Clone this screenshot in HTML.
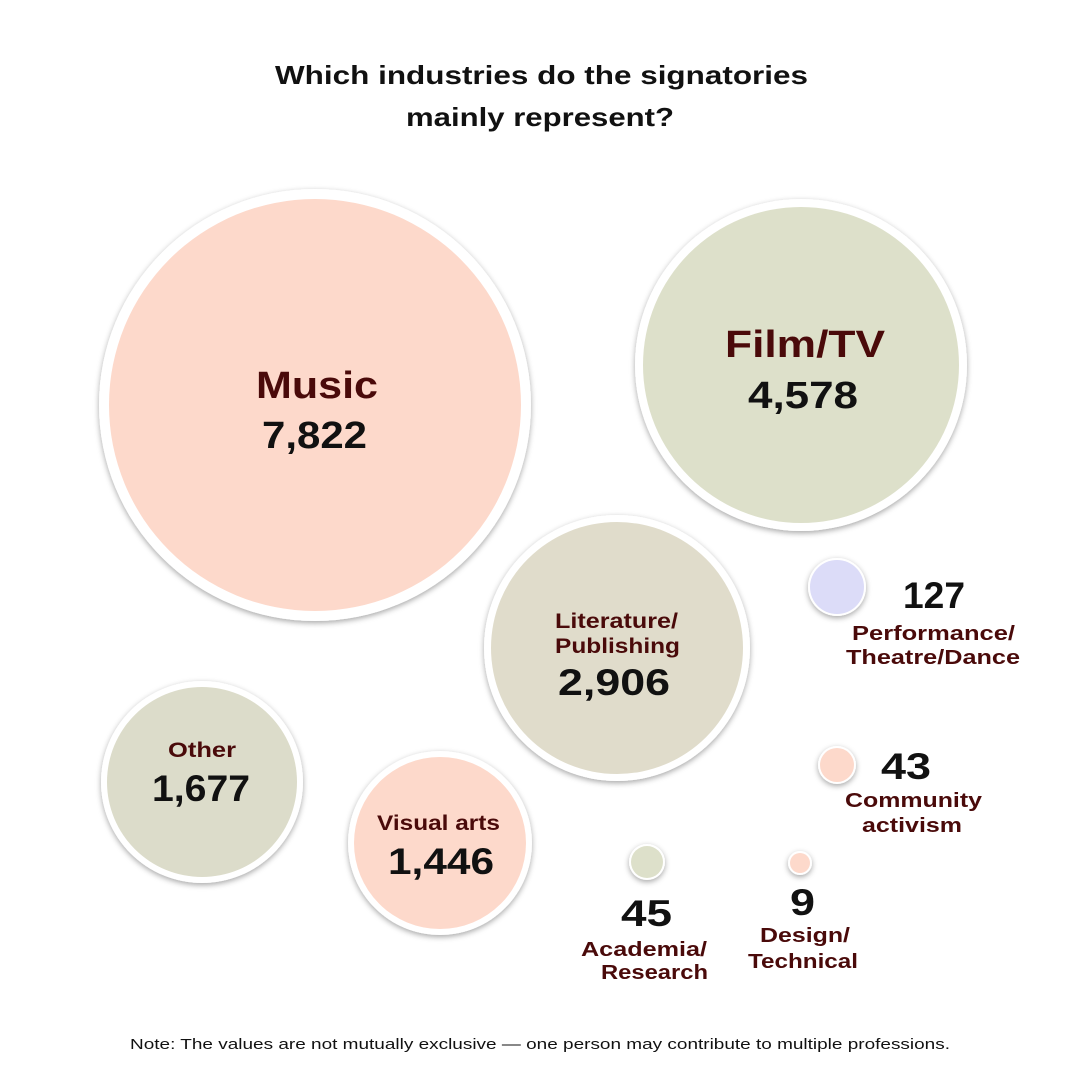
<!DOCTYPE html>
<html><head><meta charset="utf-8"><style>
body{margin:0;background:#fff;}
svg{display:block}
text{font-family:"Liberation Sans",sans-serif;font-weight:bold;}
.lab{fill:#4a0a0a}
.num{fill:#111}
</style></head><body>
<svg width="1081" height="1081" viewBox="0 0 1081 1081" xmlns="http://www.w3.org/2000/svg">
<defs>
<filter id="sh" x="-20%" y="-20%" width="140%" height="140%">
<feDropShadow dx="0" dy="2" stdDeviation="3" flood-color="#000" flood-opacity="0.35"/>
</filter>
</defs>
<rect width="1081" height="1081" fill="#fff"/>
<g lengthAdjust="spacingAndGlyphs">
<text x="275" y="84" textLength="533" lengthAdjust="spacingAndGlyphs" font-size="26" class="num">Which industries do the signatories</text>
<text x="406" y="126" textLength="268" lengthAdjust="spacingAndGlyphs" font-size="26" class="num">mainly represent?</text>
</g>

<g filter="url(#sh)" fill="#fff">
<circle cx="315" cy="405" r="216"/>
<circle cx="801" cy="365" r="166"/>
<circle cx="617" cy="648" r="133"/>
<circle cx="202" cy="782" r="101"/>
<circle cx="440" cy="843" r="92"/>
</g>
<circle cx="315" cy="405" r="206" fill="#fdd9cb"/>
<circle cx="801" cy="365" r="158" fill="#dde0ca"/>
<circle cx="617" cy="648" r="126" fill="#e0dccb"/>
<circle cx="202" cy="782" r="95" fill="#dcdcca"/>
<circle cx="440" cy="843" r="86" fill="#fdd9cb"/>
<g filter="url(#sh)">
<circle cx="837" cy="587" r="29" fill="#fff"/>
<circle cx="837" cy="765" r="19" fill="#fff"/>
<circle cx="647" cy="862" r="18" fill="#fff"/>
<circle cx="800" cy="863" r="12" fill="#fff"/>
</g>
<circle cx="837" cy="587" r="27" fill="#dcdcf8"/>
<circle cx="837" cy="765" r="17" fill="#fdd9cb"/>
<circle cx="647" cy="862" r="16" fill="#dde0ca"/>
<circle cx="800" cy="863" r="10" fill="#fdd9cb"/>

<text x="256" y="398" textLength="122" lengthAdjust="spacingAndGlyphs" font-size="38" class="lab">Music</text>
<text x="262" y="448" textLength="105" lengthAdjust="spacingAndGlyphs" font-size="38" class="num">7,822</text>
<text x="725" y="357" textLength="160" lengthAdjust="spacingAndGlyphs" font-size="38" class="lab">Film/TV</text>
<text x="748" y="408" textLength="110" lengthAdjust="spacingAndGlyphs" font-size="38" class="num">4,578</text>
<text x="555" y="628" textLength="123" lengthAdjust="spacingAndGlyphs" font-size="21" class="lab">Literature/</text>
<text x="555" y="653" textLength="125" lengthAdjust="spacingAndGlyphs" font-size="21" class="lab">Publishing</text>
<text x="558" y="695" textLength="112" lengthAdjust="spacingAndGlyphs" font-size="37" class="num">2,906</text>
<text x="168" y="757" textLength="68" lengthAdjust="spacingAndGlyphs" font-size="21" class="lab">Other</text>
<text x="152" y="801" textLength="98" lengthAdjust="spacingAndGlyphs" font-size="37" class="num">1,677</text>
<text x="377" y="830" textLength="123" lengthAdjust="spacingAndGlyphs" font-size="21" class="lab">Visual arts</text>
<text x="388" y="874" textLength="106" lengthAdjust="spacingAndGlyphs" font-size="37" class="num">1,446</text>
<text x="903" y="608" textLength="62" lengthAdjust="spacingAndGlyphs" font-size="37" class="num">127</text>
<text x="852" y="640" textLength="163" lengthAdjust="spacingAndGlyphs" font-size="20" class="lab">Performance/</text>
<text x="846" y="664" textLength="174" lengthAdjust="spacingAndGlyphs" font-size="20" class="lab">Theatre/Dance</text>
<text x="881" y="779" textLength="50" lengthAdjust="spacingAndGlyphs" font-size="37" class="num">43</text>
<text x="845" y="807" textLength="137" lengthAdjust="spacingAndGlyphs" font-size="20" class="lab">Community</text>
<text x="862" y="832" textLength="100" lengthAdjust="spacingAndGlyphs" font-size="20" class="lab">activism</text>
<text x="621" y="926" textLength="51" lengthAdjust="spacingAndGlyphs" font-size="37" class="num">45</text>
<text x="581" y="956" textLength="126" lengthAdjust="spacingAndGlyphs" font-size="20" class="lab">Academia/</text>
<text x="601" y="979" textLength="107" lengthAdjust="spacingAndGlyphs" font-size="20" class="lab">Research</text>
<text x="790" y="915" textLength="25" lengthAdjust="spacingAndGlyphs" font-size="37" class="num">9</text>
<text x="760" y="942" textLength="90" lengthAdjust="spacingAndGlyphs" font-size="20" class="lab">Design/</text>
<text x="748" y="968" textLength="110" lengthAdjust="spacingAndGlyphs" font-size="20" class="lab">Technical</text>

<text x="130" y="1049" textLength="820" lengthAdjust="spacingAndGlyphs" font-size="15" style="font-weight:normal" fill="#111">Note: The values are not mutually exclusive — one person may contribute to multiple professions.</text>
</svg>
</body></html>
